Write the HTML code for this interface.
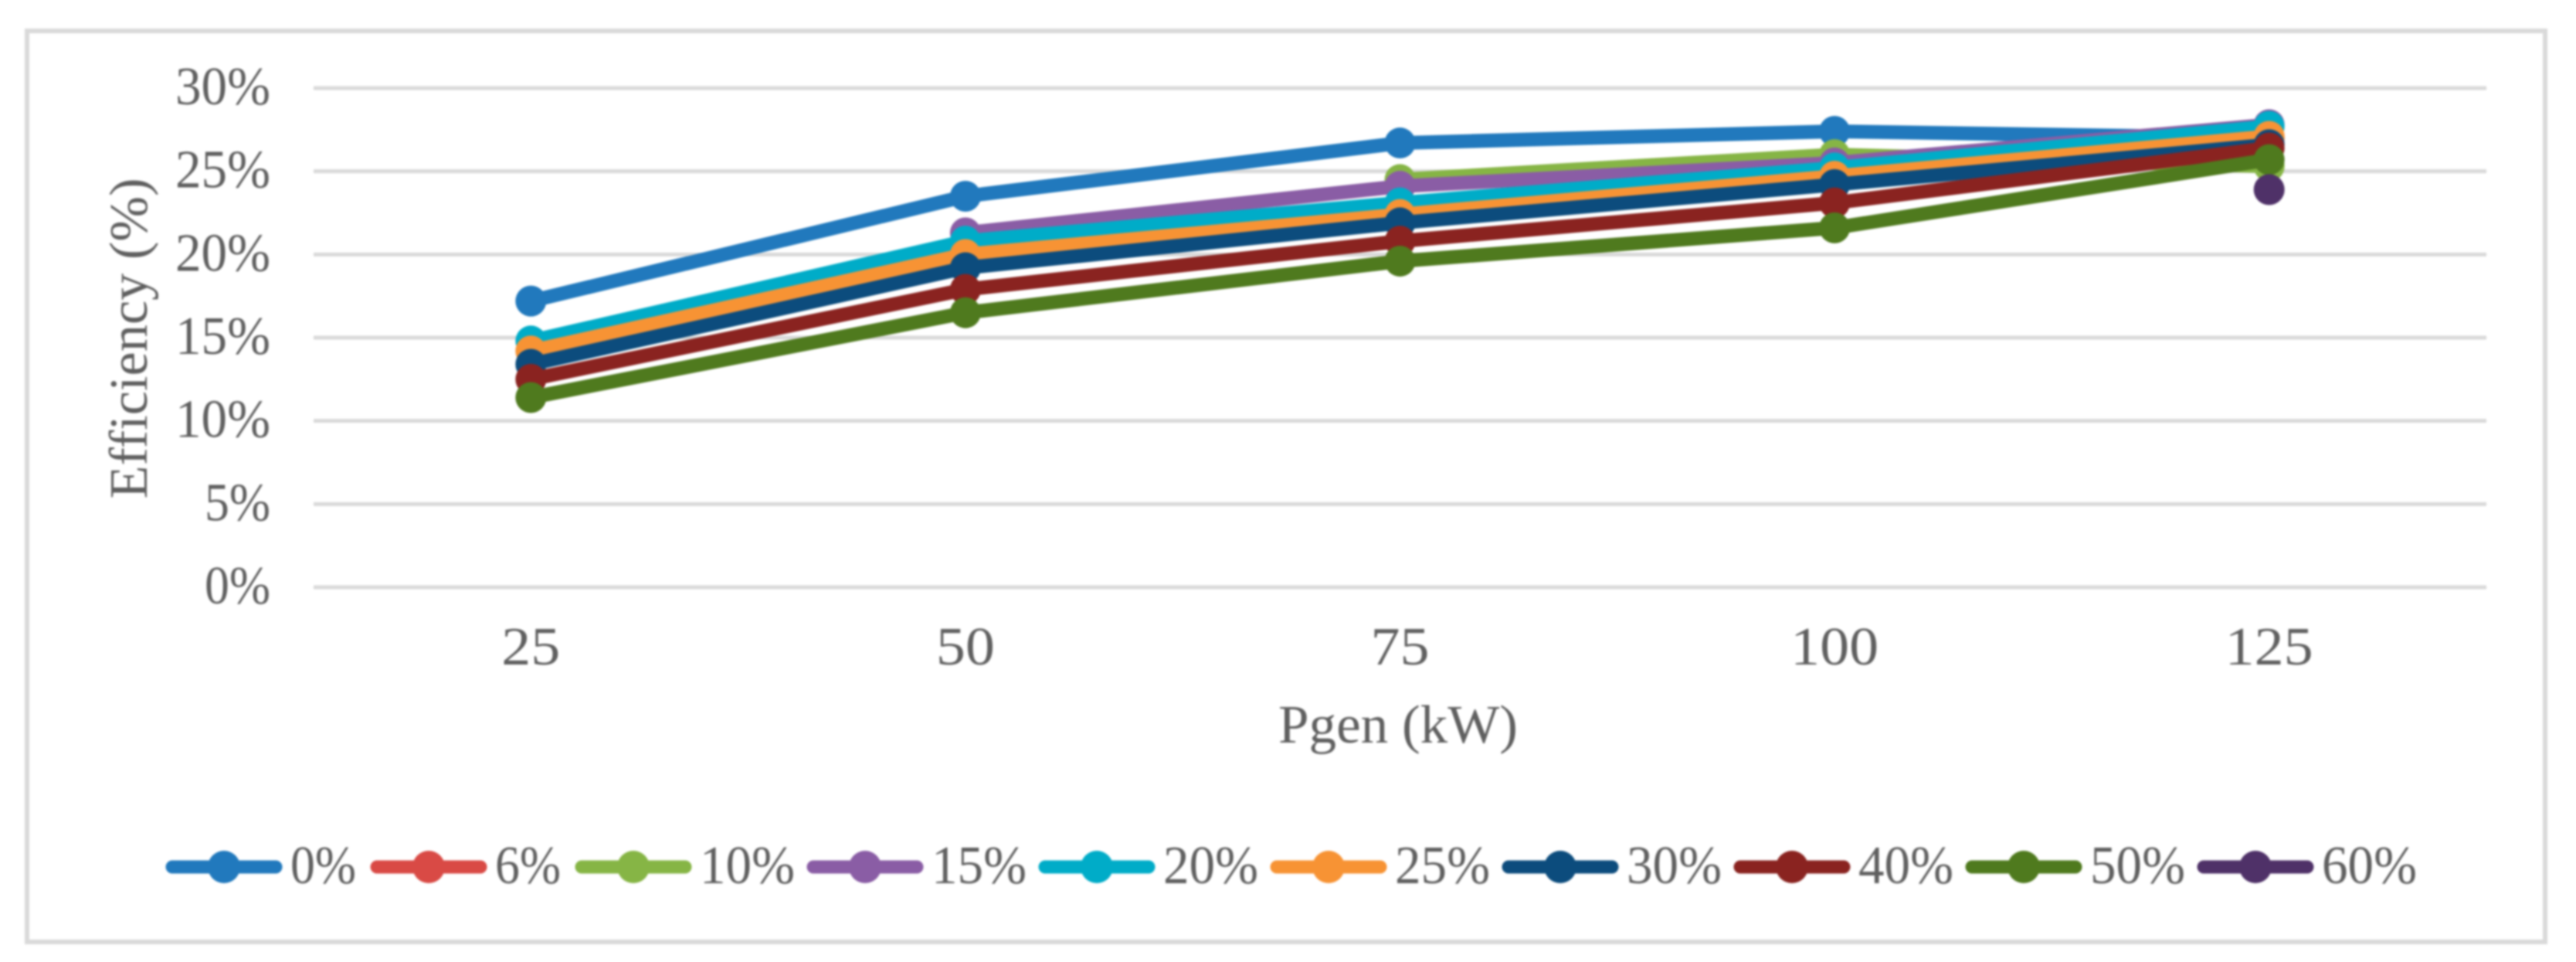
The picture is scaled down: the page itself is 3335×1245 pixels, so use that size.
<!DOCTYPE html>
<html lang="en">
<head>
<meta charset="utf-8">
<title>Efficiency vs Pgen</title>
<style>
  html, body { margin: 0; padding: 0; background: #ffffff; }
  body { width: 3335px; height: 1245px; overflow: hidden; }
  svg { display: block; filter: blur(1.2px); }
  text { font-family: "Liberation Serif", serif; fill: #5f5f5f; font-size: 70px; }
</style>
</head>
<body>
<svg id="chart" xmlns="http://www.w3.org/2000/svg" width="3335" height="1245" viewBox="0 0 3335 1245">
  <rect x="35" y="40" width="3260" height="1179" fill="#ffffff" stroke="#d9d9d9" stroke-width="6"/>
  <g id="grid"></g>
  <g id="yticks"></g>
  <g id="xticks"></g>
  <text transform="translate(190,438) rotate(-90)" text-anchor="middle" textLength="415" lengthAdjust="spacingAndGlyphs">Efficiency (%)</text>
  <text x="1810" y="961" text-anchor="middle" textLength="310" lengthAdjust="spacingAndGlyphs">Pgen (kW)</text>
  <g id="series"></g>
  <g id="legend"></g>
</svg>
<script>
const categories = ['25', '50', '75', '100', '125'];
const yTicks = [0, 5, 10, 15, 20, 25, 30];
const seriesNames = ['0%', '6%', '10%', '15%', '20%', '25%', '30%', '40%', '50%', '60%'];
const seriesColors = ['#2179bd', '#d94a45', '#86b545', '#8a5da5', '#00acc8', '#f79334', '#0c4c7d', '#8a2320', '#4f7a1e', '#4f3168'];
const values0 = [17.2, 23.5, 26.7, 27.4, 27.0];
const values6 = [null, null, null, null, 27.0];
const values10 = [null, null, 24.5, 26.0, 25.3];
const values15 = [null, 21.3, 24.1, 25.5, 27.8];
const values20 = [14.8, 20.8, 23.1, 25.2, 27.7];
const values25 = [14.2, 20.0, 22.4, 24.7, 27.1];
const values30 = [13.4, 19.2, 21.9, 24.2, 26.6];
const values40 = [12.5, 17.9, 20.8, 23.1, 26.4];
const values50 = [11.4, 16.5, 19.6, 21.6, 25.7];
const values60 = [null, null, null, null, 23.9];
const allValues = [values0, values6, values10, values15, values20, values25, values30, values40, values50, values60];

const NS = 'http://www.w3.org/2000/svg';
const plotLeft = 406, plotRight = 3219, plotTop = 114, plotBottom = 760, yMax = 30;

function xScale(i) {
  return plotLeft + (plotRight - plotLeft) * (i + 0.5) / categories.length;
}
function yScale(v) {
  return plotBottom - (plotBottom - plotTop) * v / yMax;
}
function labelWidth(s) {
  let w = 0;
  for (const c of s) w += c === '%' ? 47 : 38;
  return w;
}
function make(tag, parent) {
  const el = document.createElementNS(NS, tag);
  parent.appendChild(el);
  return el;
}

const gridG = document.getElementById('grid');
const yG = document.getElementById('yticks');
yTicks.forEach(function (t) {
  const line = make('line', gridG);
  
  
  line.setAttribute('x1', plotLeft);
  line.setAttribute('x2', plotRight);
  line.setAttribute('y1', yScale(t));
  line.setAttribute('y2', yScale(t));
  line.setAttribute('stroke', '#d9d9d9');
  line.setAttribute('stroke-width', 5);
  const label = make('text', yG);
  
  
  label.setAttribute('x', 350);
  label.setAttribute('y', yScale(t) + 21);
  label.setAttribute('text-anchor', 'end');
  label.setAttribute('textLength', labelWidth(t + '%'));
  label.setAttribute('lengthAdjust', 'spacingAndGlyphs');
  label.textContent = t + '%';
});

const xG = document.getElementById('xticks');
categories.forEach(function (c, i) {
  const label = make('text', xG);
  
  
  label.setAttribute('x', xScale(i));
  label.setAttribute('y', 860);
  label.setAttribute('text-anchor', 'middle');
  label.setAttribute('textLength', labelWidth(c));
  label.setAttribute('lengthAdjust', 'spacingAndGlyphs');
  label.textContent = c;
});

const seriesG = document.getElementById('series');
seriesNames.forEach(function (name, s) {
  const g = make('g', seriesG);
  
  
  const vals = allValues[s];
  const pts = [];
  vals.forEach(function (v, i) {
    if (v !== null) pts.push(xScale(i) + ',' + yScale(v));
  });
  if (pts.length > 1) {
    const line = make('polyline', g);
    
    
    line.setAttribute('points', pts.join(' '));
    line.setAttribute('fill', 'none');
    line.setAttribute('stroke', seriesColors[s]);
    line.setAttribute('stroke-width', 18);
    line.setAttribute('stroke-linejoin', 'round');
    line.setAttribute('stroke-linecap', 'round');
  }
  vals.forEach(function (v, i) {
    if (v === null) return;
    const dot = make('circle', g);
    
    
    dot.setAttribute('cx', xScale(i));
    dot.setAttribute('cy', yScale(v));
    dot.setAttribute('r', 20);
    dot.setAttribute('fill', seriesColors[s]);
  });
});

const legendG = document.getElementById('legend');
let legendX = 215;
const legendY = 1122;
seriesNames.forEach(function (name, s) {
  const g = make('g', legendG);
  
  
  const swatch = make('line', g);
  
  
  swatch.setAttribute('x1', legendX + 8);
  swatch.setAttribute('x2', legendX + 142);
  swatch.setAttribute('y1', legendY);
  swatch.setAttribute('y2', legendY);
  swatch.setAttribute('stroke', seriesColors[s]);
  swatch.setAttribute('stroke-width', 17);
  swatch.setAttribute('stroke-linecap', 'round');
  const dot = make('circle', g);
  
  
  dot.setAttribute('cx', legendX + 75);
  dot.setAttribute('cy', legendY);
  dot.setAttribute('r', 21);
  dot.setAttribute('fill', seriesColors[s]);
  const label = make('text', g);
  
  
  label.setAttribute('x', legendX + 161);
  label.setAttribute('y', legendY + 21);
  label.setAttribute('textLength', labelWidth(name));
  label.setAttribute('lengthAdjust', 'spacingAndGlyphs');
  label.textContent = name;
  legendX += name.length === 2 ? 265 : 300;
});
</script>
</body>
</html>
